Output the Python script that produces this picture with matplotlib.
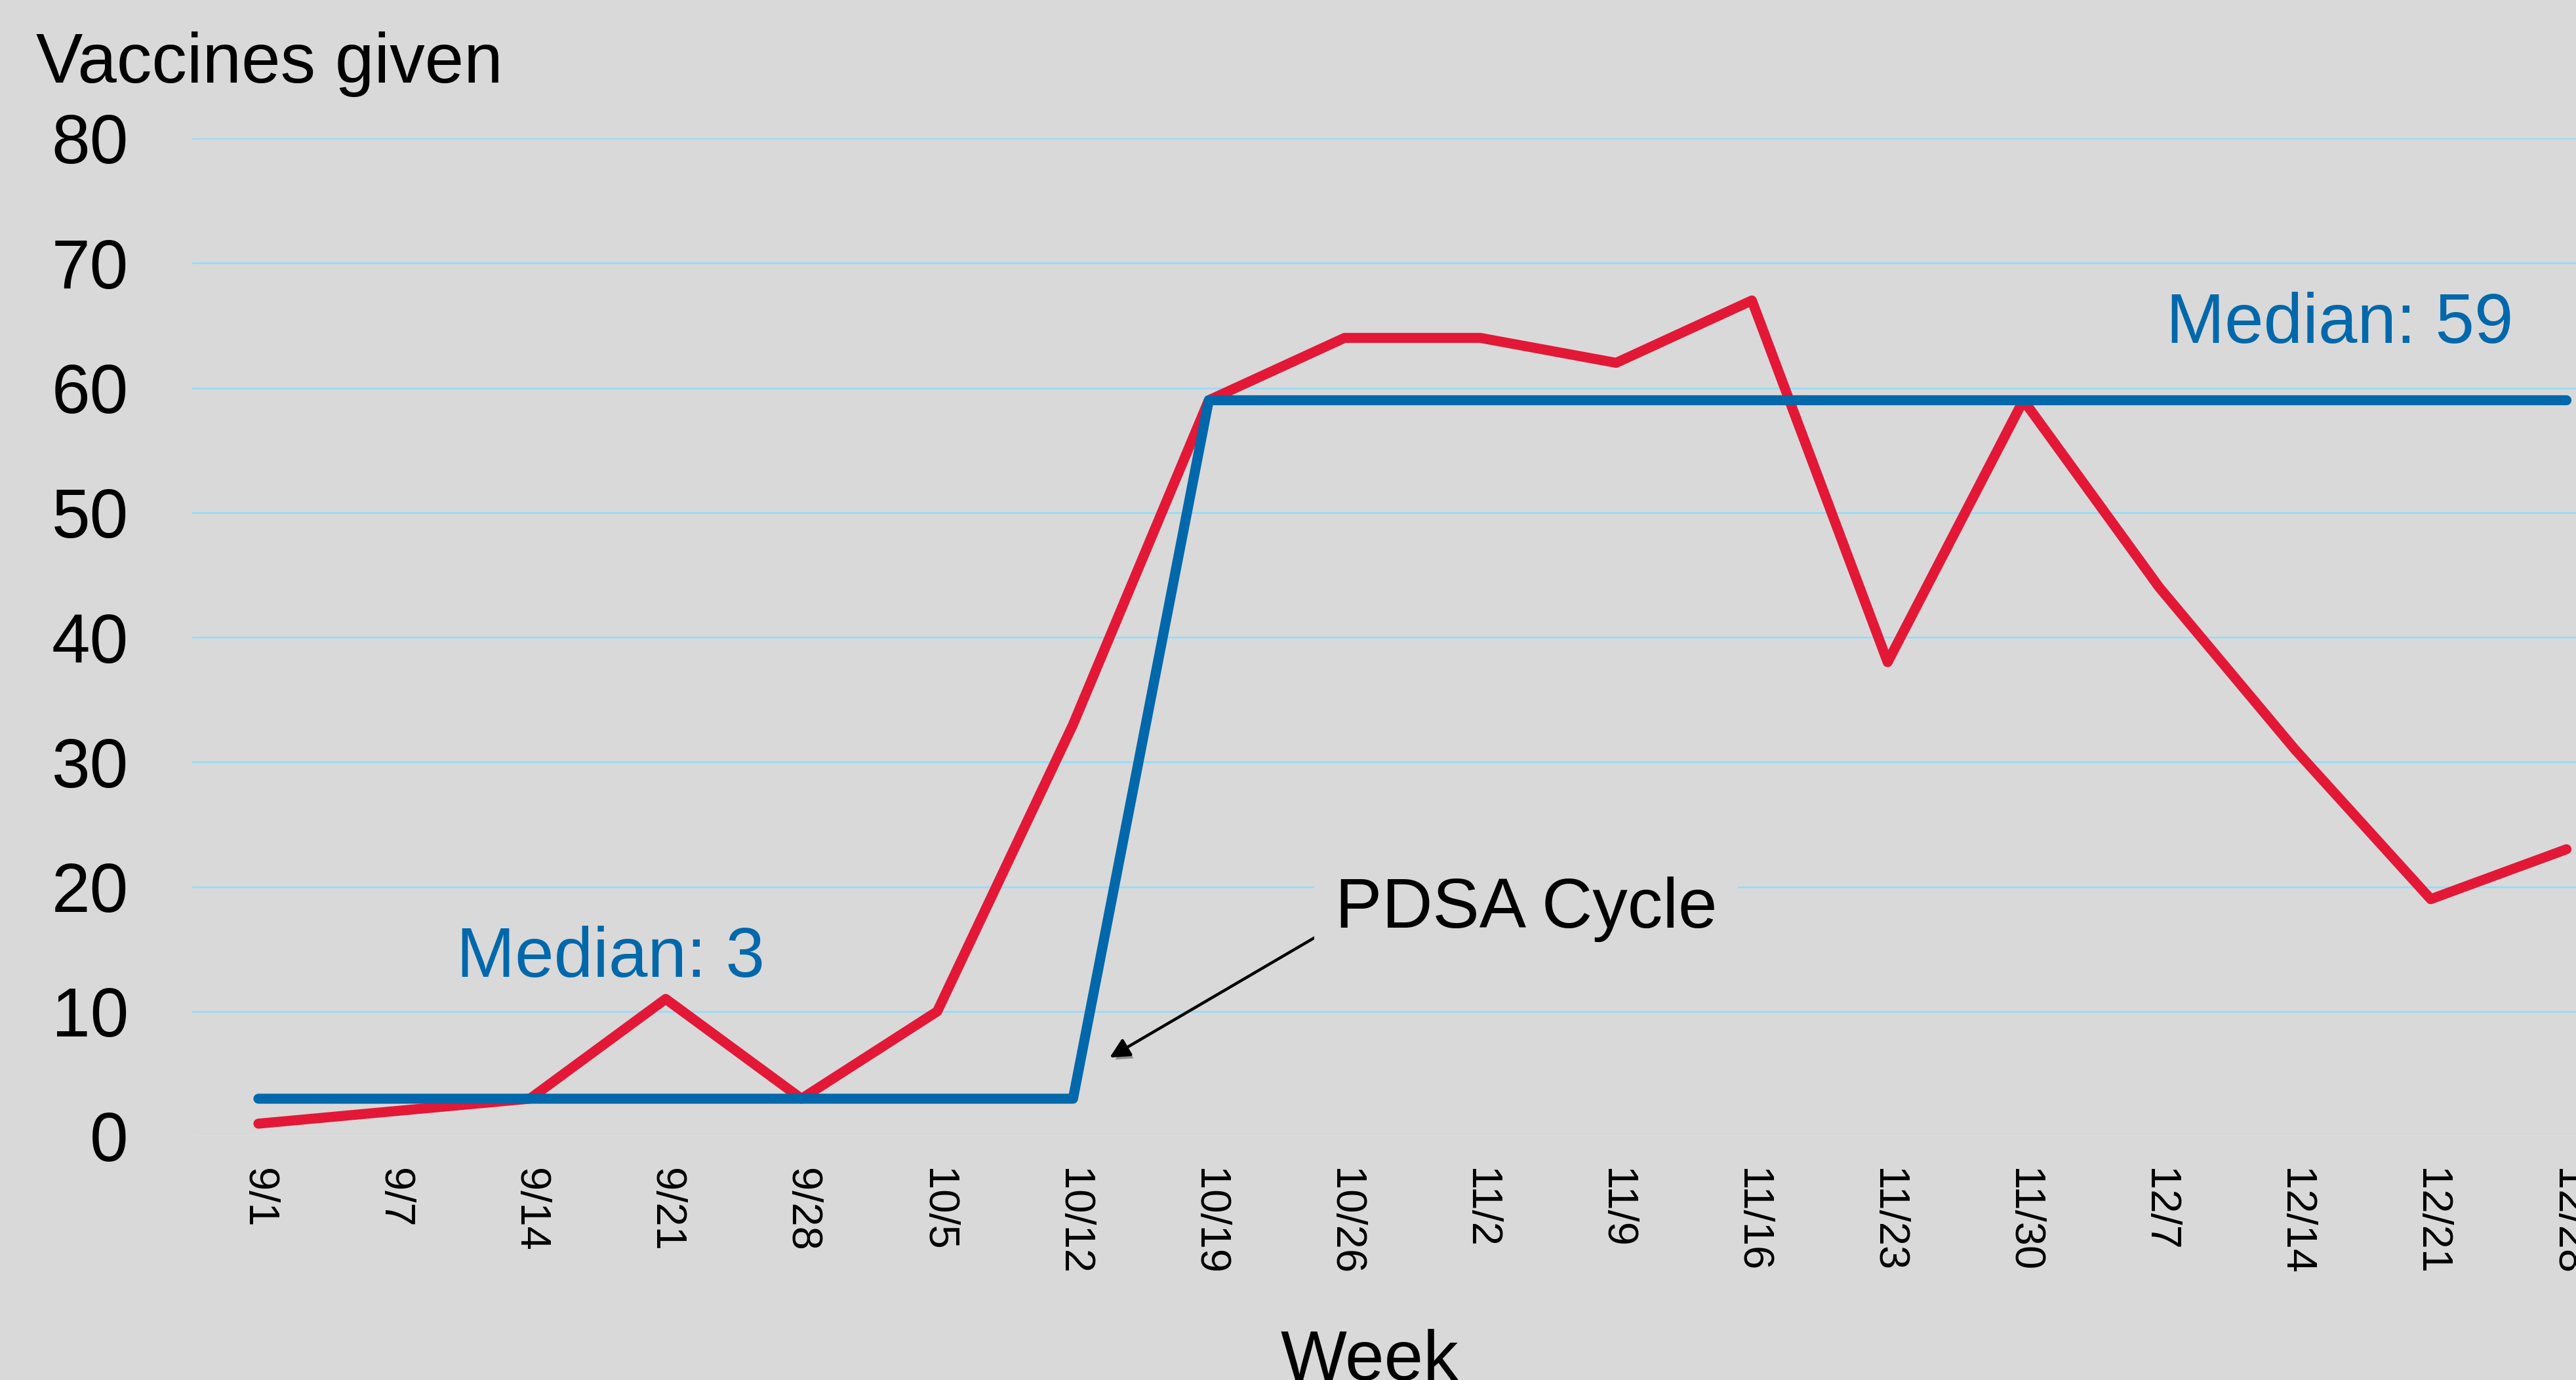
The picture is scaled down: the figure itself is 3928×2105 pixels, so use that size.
import matplotlib
matplotlib.use("Agg")
import matplotlib.pyplot as plt
import matplotlib.patheffects as pe

weeks = ["9/1", "9/7", "9/14", "9/21", "9/28", "10/5", "10/12", "10/19", "10/26",
         "11/2", "11/9", "11/16", "11/23", "11/30", "12/7", "12/14", "12/21", "12/28"]
vaccines = [1, 2, 3, 11, 3, 10, 33, 59, 64, 64, 62, 67, 38, 59, 44, 31, 19, 23]
median = [3, 3, 3, 3, 3, 3, 3, 59, 59, 59, 59, 59, 59, 59, 59, 59, 59, 59]
yticks = [0, 10, 20, 30, 40, 50, 60, 70, 80]

BG = "#d9d9d9"
RED = "#e31837"
BLUE = "#0068ab"
GRID = "#8fdcfa"

plt.rcParams["font.family"] = ["Liberation Sans", "DejaVu Sans"]


def main():
    W, H = 3928, 2105
    fig = plt.figure(figsize=(W / 100, H / 100), dpi=100, facecolor=BG)
    ax = fig.add_axes([293 / W, (H - 1733) / H, (W - 293) / W, (1733 - 211) / H])
    ax.set_facecolor(BG)

    x = list(range(len(weeks)))
    ax.plot(x, vaccines, color=RED, lw=11, solid_capstyle="round",
            solid_joinstyle="round", zorder=3, clip_on=False)
    ax.plot(x, median, color=BLUE, lw=11, solid_capstyle="round",
            solid_joinstyle="round", zorder=4, clip_on=False)

    ax.set_xlim(-0.488, 17.07)
    ax.set_ylim(0, 80)
    ax.set_xticks(x)
    ax.set_xticklabels(weeks, rotation=-90, fontsize=47)
    ax.set_yticks(yticks)
    ax.set_yticklabels([str(v) for v in yticks], fontsize=76)
    ax.tick_params(axis="x", length=0, pad=35)
    ax.tick_params(axis="y", length=0, pad=70)
    for s in ax.spines.values():
        s.set_visible(False)

    ax.grid(axis="y", color=GRID, lw=1.8, zorder=0)
    ax.grid(axis="x", visible=False)
    ax.set_axisbelow(True)
    ax.yaxis.get_gridlines()[0].set_color("#cfe6f0")

    ax.set_xlabel("Week", fontsize=77, va="top")
    ax.xaxis.set_label_coords(0.4938, -0.193)

    fig.text(55 / W, (H - 126) / H, "Vaccines given", fontsize=77, va="baseline")

    ax.text(1.46, 12.77, "Median: 3", color=BLUE, fontsize=77, va="baseline")
    ax.text(14.05, 63.6, "Median: 59", color=BLUE, fontsize=77, va="baseline")

    ax.annotate("", xy=(6.27, 6.3), xytext=(7.84, 16.3),
                arrowprops=dict(arrowstyle="-|>", color="black", lw=3.2,
                                mutation_scale=45, shrinkA=0, shrinkB=0,
                                path_effects=[pe.SimplePatchShadow(offset=(3, -4), alpha=0.35),
                                              pe.Normal()]),
                zorder=5)
    ax.text(7.93, 16.71, "PDSA Cycle", fontsize=77, va="baseline", zorder=5,
            bbox=dict(boxstyle="square,pad=0.3", fc=BG, ec="none"))

    fig.savefig("out.png", dpi=100, facecolor=BG)
    plt.close(fig)


if __name__ == "__main__":
    main()
